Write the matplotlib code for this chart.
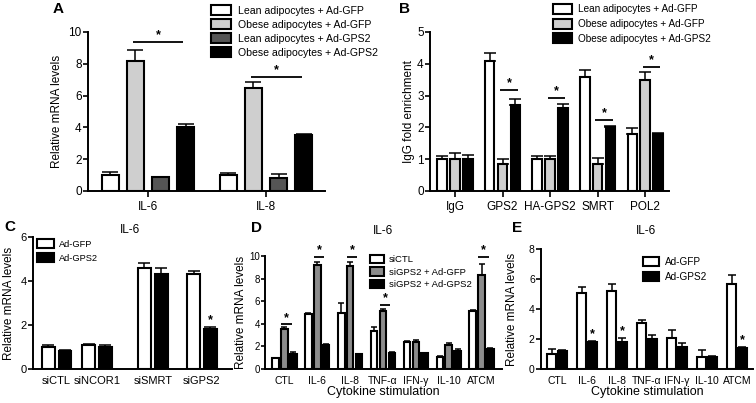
import numpy as np
import matplotlib.pyplot as plt
from matplotlib.patches import Patch

plt.rcParams['font.family'] = ['Liberation Sans', 'DejaVu Sans']

W, H = 756, 403

# ---------------- data ----------------
# A
a_genes = ["IL-6", "IL-8"]
a_groups = ["Lean adipocytes + Ad-GFP", "Obese adipocytes + Ad-GFP",
            "Lean adipocytes + Ad-GPS2", "Obese adipocytes + Ad-GPS2"]
a_vals = [[1.0, 1.0], [8.15, 6.45], [0.85, 0.8], [4.05, 3.55]]
a_errs = [[0.2, 0.12], [0.7, 0.38], [0.06, 0.25], [0.15, 0.06]]
a_sig = [9.37, 7.2]

# B
b_targets = ["IgG", "GPS2", "HA-GPS2", "SMRT", "POL2"]
b_groups = ["Lean adipocytes + Ad-GFP", "Obese adipocytes + Ad-GFP",
            "Obese adipocytes + Ad-GPS2"]
b_vals = [[1.0, 4.1, 1.0, 3.6, 1.8], [1.0, 0.85, 1.0, 0.85, 3.5],
          [1.0, 2.7, 2.6, 2.0, 1.8]]
b_errs = [[0.1, 0.23, 0.1, 0.22, 0.17], [0.2, 0.15, 0.1, 0.2, 0.25],
          [0.13, 0.2, 0.13, 0.03, 0.02]]
b_sig = [None, 3.17, 2.93, 2.23, 3.9]

# C
c_sirna = ["siCTL", "siNCOR1", "siSMRT", "siGPS2"]
c_groups = ["Ad-GFP", "Ad-GPS2"]
c_vals = [[1.0, 1.1, 4.6, 4.3], [0.8, 1.0, 4.3, 1.8]]
c_errs = [[0.1, 0.03, 0.22, 0.15], [0.05, 0.08, 0.3, 0.12]]

# D
cytokines = ["CTL", "IL-6", "IL-8", "TNF-α", "IFN-γ", "IL-10", "ATCM"]
d_groups = ["siCTL", "siGPS2 + Ad-GFP", "siGPS2 + Ad-GPS2"]
d_vals = [[1.0, 4.9, 5.0, 3.4, 2.4, 1.1, 5.1],
          [3.5, 9.2, 9.1, 5.1, 2.4, 2.1, 8.3],
          [1.3, 2.1, 1.3, 1.4, 1.4, 1.6, 1.8]]
d_errs = [[0.0, 0.03, 0.8, 0.35, 0.1, 0.05, 0.1],
          [0.2, 0.3, 0.4, 0.2, 0.2, 0.2, 1.0],
          [0.2, 0.15, 0.05, 0.1, 0.03, 0.15, 0.1]]
d_sig = [3.95, 9.9, 9.9, 5.7, None, None, 9.9]

# E
e_groups = ["Ad-GFP", "Ad-GPS2"]
e_vals = [[1.0, 5.1, 5.2, 3.1, 2.1, 0.8, 5.7],
          [1.2, 1.8, 1.8, 2.0, 1.5, 0.8, 1.4]]
e_errs = [[0.35, 0.4, 0.5, 0.2, 0.5, 0.5, 0.55],
          [0.08, 0.1, 0.3, 0.25, 0.25, 0.1, 0.1]]
e_star = [False, True, True, False, False, False, True]

fig = plt.figure(figsize=(W / 100, H / 100), dpi=100)


def px_axes(left, right, top, bottom):
    return fig.add_axes([left / W, 1 - bottom / H, (right - left) / W, (bottom - top) / H])


def draw_bars(ax, pos, vals, errs, colors, offsets, width, cap):
    for v, e, c, off in zip(vals, errs, colors, offsets):
        xi = np.asarray(pos) + off
        ax.errorbar(xi, v, yerr=[np.zeros(len(v)), e], fmt='none', ecolor='black',
                    elinewidth=1.1, capsize=cap, capthick=1.1, zorder=2)
        ax.bar(xi, v, width, color=c, edgecolor='black', linewidth=1.5, zorder=3)


def style(ax, xlim, ylim, yticks, pos, labels, xtick_len, tick_fs, xpad, ylabel, ylab_x,
          ytick_fs=None):
    for s in ['top', 'right']:
        ax.spines[s].set_visible(False)
    for s in ['left', 'bottom']:
        ax.spines[s].set_linewidth(1.4)
    ax.set_xlim(*xlim)
    ax.set_ylim(*ylim)
    ax.set_yticks(yticks)
    ax.set_xticks(pos)
    ax.set_xticklabels(labels)
    ax.tick_params(axis='y', length=3.5, width=1.2, labelsize=ytick_fs or tick_fs, pad=1)
    ax.tick_params(axis='x', length=xtick_len, width=1.2, labelsize=tick_fs, pad=xpad)
    ax.set_ylabel(ylabel, fontsize=8.5)
    ax.yaxis.set_label_coords(ylab_x, 0.5)


def sig(ax, x1, x2, y, dy, fs=8):
    ax.plot([x1, x2], [y, y], color='black', lw=1.3, solid_capstyle='butt', zorder=4)
    ax.text((x1 + x2) / 2, y + dy, '*', ha='center', va='bottom', fontsize=fs,
            fontweight='bold')


def legend(handles, x, y, fs, hl, hh, sp, pad):
    fig.legend(handles=handles, loc='upper left', bbox_to_anchor=(x / W, 1 - y / H),
               frameon=False, fontsize=fs, handlelength=hl, handleheight=hh,
               labelspacing=sp, handletextpad=pad, borderpad=0, borderaxespad=0)


def patches(colors, labels):
    return [Patch(facecolor=c, edgecolor='black', linewidth=1.5, label=l)
            for c, l in zip(colors, labels)]


# ---------------- A ----------------
axA = px_axes(88, 325, 32, 191)
colsA = ['white', '#cfcfcf', '#555555', 'black']
offA = [(i - 1.5) * 0.214 for i in range(4)]
posA = np.arange(len(a_genes))
draw_bars(axA, posA, a_vals, a_errs, colsA, offA, 0.145, 6)
style(axA, (-0.508, 1.5), (0, 10), range(0, 11, 2), posA, a_genes, 4, 8.5, 3,
      "Relative mRNA levels", -0.105)
for i, y in enumerate(a_sig):
    sig(axA, posA[i] + offA[1] - 0.02, posA[i] + offA[3] - 0.02, y, 0.05, 9)
legend(patches(colsA, a_groups), 211, 5, 7.6, 1.9, 1.1, 0.32, 0.7)

# ---------------- B ----------------
axB = px_axes(430, 669, 32, 191)
colsB = ['white', '#cfcfcf', 'black']
offB = [(i - 1) * 0.27 for i in range(3)]
posB = np.arange(len(b_targets))
draw_bars(axB, posB, b_vals, b_errs, colsB, offB, 0.2, 4)
style(axB, (-0.525, 4.5), (0, 5), range(0, 6), posB, b_targets, 4, 8.5, 3,
      "IgG fold enrichment", -0.064)
for i, y in enumerate(b_sig):
    if y is not None:
        sig(axB, posB[i] + offB[1] - 0.05, posB[i] + offB[2] + 0.05, y, 0.03, 9)
legend(patches(colsB, b_groups), 553, 4, 7.2, 1.9, 1.2, 0.4, 0.55)

# ---------------- C ----------------
axC = px_axes(33, 232, 237, 369)
colsC = ['white', 'black']
offC = [-0.21, 0.21]
posC = [0, 1.01, 2.41, 3.64]
draw_bars(axC, posC, c_vals, c_errs, colsC, offC, 0.32, 4)
style(axC, (-0.59, 4.39), (0, 6), range(0, 7, 2), posC, c_sirna, 0, 8, 5,
      "Relative mRNA levels", -0.09)
axC.text(posC[3] + offC[1], c_vals[1][3] + c_errs[1][3] + 0.02, '*', ha='center',
         va='bottom', fontsize=9, fontweight='bold')
legend(patches(colsC, c_groups), 37, 239, 6.7, 1.8, 1.1, 0.5, 0.6)

# ---------------- D ----------------
axD = px_axes(265, 502, 256, 369)
colsD = ['white', '#8c8c8c', 'black']
offD = [(i - 1) * 0.27 for i in range(3)]
posD = np.arange(len(cytokines))
draw_bars(axD, posD, d_vals, d_errs, colsD, offD, 0.2, 2.5)
style(axD, (-0.59, 6.62), (0, 10), range(0, 11, 2), posD, cytokines, 0, 7.5, 5,
      "Relative mRNA levels", -0.075, ytick_fs=7)
axD.tick_params(axis='y', length=3, pad=0.5)
axD.set_xlabel("Cytokine stimulation", fontsize=9, labelpad=0)
for i, y in enumerate(d_sig):
    if y is not None:
        sig(axD, posD[i] + offD[1] - 0.1, posD[i] + offD[2] - 0.05, y, 0.05, 9)
legend(patches(colsD, d_groups), 370, 255, 6.8, 1.5, 1.0, 0.32, 0.5)

# ---------------- E ----------------
axE = px_axes(541, 753, 249, 369)
colsE = ['white', 'black']
offE = [-0.18, 0.18]
posE = np.arange(len(cytokines))
draw_bars(axE, posE, e_vals, e_errs, colsE, offE, 0.3, 3)
style(axE, (-0.53, 6.53), (0, 8), range(0, 9, 2), posE, cytokines, 0, 7.5, 5,
      "Relative mRNA levels", -0.108)
axE.set_xlabel("Cytokine stimulation", fontsize=9, labelpad=0)
for i, s in enumerate(e_star):
    if s:
        axE.text(posE[i] + offE[1], e_vals[1][i] + e_errs[1][i] + 0.02, '*',
                 ha='center', va='bottom', fontsize=9, fontweight='bold')
legend(patches(colsE, e_groups), 643, 257, 7.2, 1.6, 1.0, 0.5, 0.6)

# ---------------- titles and panel letters ----------------
for x, y, t in [(130, 230, "IL-6"), (383, 231, "IL-6"), (646, 231, "IL-6")]:
    fig.text(x / W, 1 - y / H, t, ha='center', va='center', fontsize=8.5)
for x, y, t in [(58, 9, "A"), (404, 9, "B"), (10, 227, "C"), (256, 228, "D"),
                (517, 228, "E")]:
    fig.text(x / W, 1 - y / H, t, ha='center', va='center', fontsize=11,
             fontweight='bold')

fig.savefig("out.png", dpi=100)
